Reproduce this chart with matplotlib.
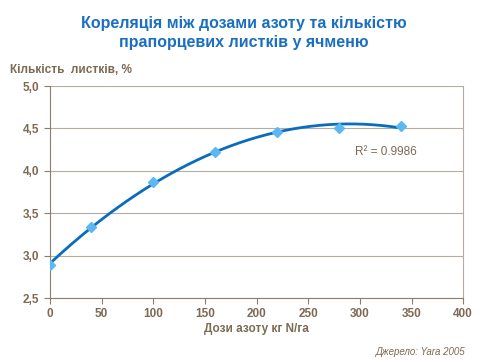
import numpy as np
import matplotlib
matplotlib.use('Agg')
import matplotlib.pyplot as plt

plt.rcParams['font.family'] = ['Liberation Sans', 'DejaVu Sans']

# Data
doses = [0, 40, 100, 160, 220, 280, 340]
leaves = [2.89, 3.34, 3.87, 4.22, 4.46, 4.51, 4.53]

x_ticks = [0, 50, 100, 150, 200, 250, 300, 350, 400]
y_ticks = [2.5, 3.0, 3.5, 4.0, 4.5, 5.0]
y_tick_labels = ['2,5', '3,0', '3,5', '4,0', '4,5', '5,0']

txt_col = '#7d6a52'
grid_col = '#b4aca2'
title_col = '#1a6fc0'

fig = plt.figure(figsize=(4.8, 3.6), dpi=100)
ax = fig.add_axes([0.104, 0.172, 0.861, 0.589])

# polynomial trend line (order 2) like Excel
coef = np.polyfit(doses, leaves, 2)
xs = np.linspace(min(doses), max(doses), 200)
ax.plot(xs, np.polyval(coef, xs), color='#0a6cbd', lw=2, zorder=3)
ax.plot(doses, leaves, linestyle='none', marker='D', ms=5.5,
        color='#5cb8f2', mec='#5cb8f2', zorder=4)

ax.set_xlim(0, 400)
ax.set_ylim(2.5, 5.0)
ax.set_xticks(x_ticks)
ax.set_yticks(y_ticks)
ax.set_yticklabels(y_tick_labels)
ax.grid(axis='y', color=grid_col, lw=0.8)
ax.set_axisbelow(True)

for s in ['left', 'bottom']:
    ax.spines[s].set_color('#8c7e6e')
    ax.spines[s].set_linewidth(0.8)
ax.spines['right'].set_color(grid_col)
ax.spines['right'].set_linewidth(0.8)
ax.spines['top'].set_visible(False)

ax.tick_params(axis='both', colors='#8c7e6e', length=4, width=0.8,
               labelcolor=txt_col, labelsize=8.5)
for lab in ax.get_xticklabels() + ax.get_yticklabels():
    lab.set_fontweight('bold')

ax.set_xlabel('Дози азоту кг N/га', color=txt_col, fontsize=8.5,
              fontweight='bold', labelpad=2)

ax.text(295, 4.22, 'R² = 0.9986', color=txt_col, fontsize=8.5,
        va='center', ha='left')

fig.text(0.508, 0.908, 'Кореляція між дозами азоту та кількістю\nпрапорцевих листків у ячменю',
         ha='center', va='center', color=title_col, fontsize=11.5,
         fontweight='bold', linespacing=1.3)
fig.text(0.02, 0.805, 'Кількість  листків, %', color=txt_col, fontsize=8.5,
         fontweight='bold', va='center', ha='left')
fig.text(0.97, 0.022, 'Джерело: Yara 2005', color=txt_col, fontsize=7,
         fontstyle='italic', ha='right', va='center')

fig.savefig('out.png', dpi=100)
